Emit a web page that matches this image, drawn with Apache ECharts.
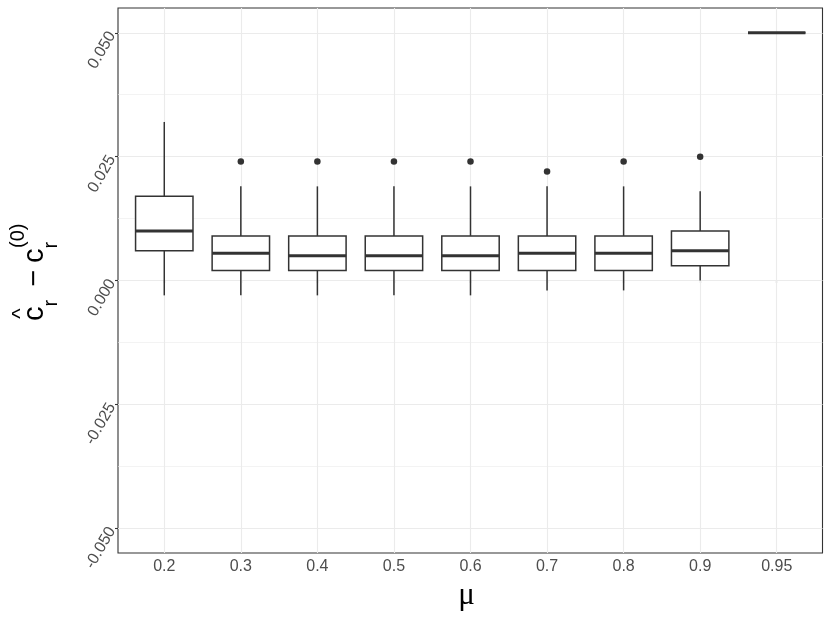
<!DOCTYPE html>
<html>
<head>
<meta charset="utf-8">
<script src="https://cdn.jsdelivr.net/npm/echarts@6/dist/echarts.min.js"></script>
<style>
  html, body { margin: 0; padding: 0; background: #fff; }
  #chart { width: 830px; height: 623px; }
</style>
</head>
<body>
<div id="chart"></div>
<script>
// mu levels on the x axis
const categories = ['0.2', '0.3', '0.4', '0.5', '0.6', '0.7', '0.8', '0.9', '0.95'];

// box statistics
const whiskerLow  = [-0.003, -0.003, -0.003, -0.003, -0.003, -0.002, -0.002, 0.000, 0.050];
const q1          = [ 0.006,  0.002,  0.002,  0.002,  0.002,  0.002,  0.002, 0.003, 0.050];
const medians     = [ 0.010,  0.0055, 0.005,  0.005,  0.005,  0.0055, 0.0055, 0.006, 0.050];
const q3          = [ 0.017,  0.009,  0.009,  0.009,  0.009,  0.009,  0.009, 0.010, 0.050];
const whiskerHigh = [ 0.032,  0.019,  0.019,  0.019,  0.019,  0.019,  0.019, 0.018, 0.050];

// outlying points
const outlierCats   = ['0.3', '0.4', '0.5', '0.6', '0.7', '0.8', '0.9'];
const outlierValues = [0.024, 0.024, 0.024, 0.024, 0.022, 0.024, 0.025];

// y axis ticks
const yTicks = [-0.05, -0.025, 0, 0.025, 0.05];

const chart = echarts.init(document.getElementById('chart'), null, { renderer: 'canvas' });

const ink = '#333333';
const labelColor = '#4d4d4d';
const gridColor = '#ebebeb';
const font = 'Liberation Sans, Arial, sans-serif';

const boxData = categories.map((c, i) => [i, whiskerLow[i], q1[i], medians[i], q3[i], whiskerHigh[i]]);
const outlierData = outlierCats.map((c, i) => [c, outlierValues[i]]);

const renderBox = (params, api) => {
  const i = api.value(0);
  const x = api.coord([i, 0])[0];
  const half = api.size([1, 0])[0] * 0.75 / 2;
  const y = k => api.coord([i, api.value(k)])[1];
  const yLow = y(1), yQ1 = y(2), yMed = y(3), yQ3 = y(4), yHigh = y(5);
  const thin = { stroke: ink, lineWidth: 1.5 };
  return {
    type: 'group',
    children: [
      { type: 'line', shape: { x1: x, y1: yLow, x2: x, y2: yQ1 }, style: thin },
      { type: 'line', shape: { x1: x, y1: yQ3, x2: x, y2: yHigh }, style: thin },
      { type: 'rect', shape: { x: x - half, y: yQ3, width: half * 2, height: yQ1 - yQ3 },
        style: { fill: '#fff', stroke: ink, lineWidth: 1.5 } },
      { type: 'line', shape: { x1: x - half, y1: yMed, x2: x + half, y2: yMed },
        style: { stroke: ink, lineWidth: 3 } }
    ]
  };
};

// y title: c-hat_r - c_r^(0), built from pieces and turned on its side
const titleMain = 29, titleSmall = 20;
const piece = (text, x, y, size, align) => ({
  type: 'text', x: x, y: y,
  style: { text: text, font: size + 'px ' + font, fill: '#000', align: align || 'left', verticalAlign: 'middle' }
});

chart.setOption({
  animation: false,
  grid: [
    { left: 118, top: 8, width: 704.5, height: 545, show: true, borderColor: ink, borderWidth: 1.1, backgroundColor: 'transparent' },
    { left: 118, top: 32.77, width: 704.5, height: 495.45 },
    { left: 126, top: 8, width: 689, height: 545 }
  ],
  xAxis: [
    { gridIndex: 0, type: 'value', show: false, min: 0, max: 1 },
    { gridIndex: 1, type: 'value', show: false, min: 0, max: 1 },
    {
      gridIndex: 2, type: 'category', data: categories,
      axisLine: { show: false },
      axisTick: { show: true, alignWithLabel: true, length: 3, lineStyle: { color: ink, width: 1.1 } },
      axisLabel: { color: labelColor, fontSize: 16, fontFamily: font, margin: 6 },
      splitLine: { show: false },
      name: 'μ', nameLocation: 'middle', nameGap: 13,
      nameTextStyle: { fontSize: 31, fontFamily: 'Liberation Serif, DejaVu Serif, serif', color: '#000', padding: [0, 8, 0, 0] }
    }
  ],
  yAxis: [
    { gridIndex: 0, type: 'value', show: false, min: 0, max: 1 },
    {
      gridIndex: 1, type: 'value', min: -0.05, max: 0.05, interval: 0.025,
      axisLine: { show: false },
      axisTick: { show: true, length: 3, lineStyle: { color: ink, width: 1.1 } },
      axisLabel: {
        color: labelColor, fontSize: 16, fontFamily: font, rotate: 60, margin: 6,
        customValues: yTicks,
        formatter: v => v.toFixed(3)
      },
      splitLine: { show: true, lineStyle: { color: gridColor, width: 1.1 } },
      minorTick: { show: false, splitNumber: 2 },
      minorSplitLine: { show: true, lineStyle: { color: gridColor, width: 0.6 } }
    },
    { gridIndex: 2, type: 'value', show: false, min: -0.055, max: 0.055 }
  ],
  series: [
    {
      type: 'line', xAxisIndex: 2, yAxisIndex: 2, data: [], z: 1, silent: true,
      markLine: {
        silent: true, symbol: ['none', 'none'], z: 1,
        label: { show: false },
        lineStyle: { color: gridColor, width: 1.1, type: 'solid' },
        data: categories.map(c => ({ xAxis: c }))
      }
    },
    {
      type: 'custom', xAxisIndex: 2, yAxisIndex: 2, z: 5,
      renderItem: renderBox,
      encode: { x: 0, y: [1, 2, 3, 4, 5] },
      data: boxData
    },
    {
      type: 'scatter', xAxisIndex: 2, yAxisIndex: 2, z: 6,
      symbolSize: 6.5, itemStyle: { color: ink, opacity: 1 },
      data: outlierData
    }
  ],
  graphic: [
    {
      type: 'group', x: 45, y: 272.5, rotation: Math.PI / 2,
      children: [
        piece('^', -41, -24.5, 22, 'center'),
        piece('c', -48.5, -10.2, titleMain),
        piece('r', -34, 6, titleSmall),
        piece('\u2212', -14, -10.2, titleMain),
        piece('c', 9.5, -10.2, titleMain),
        piece('r', 24, 6, titleSmall),
        piece('(0)', 24.5, -27, titleSmall)
      ]
    }
  ]
});
</script>
</body>
</html>
